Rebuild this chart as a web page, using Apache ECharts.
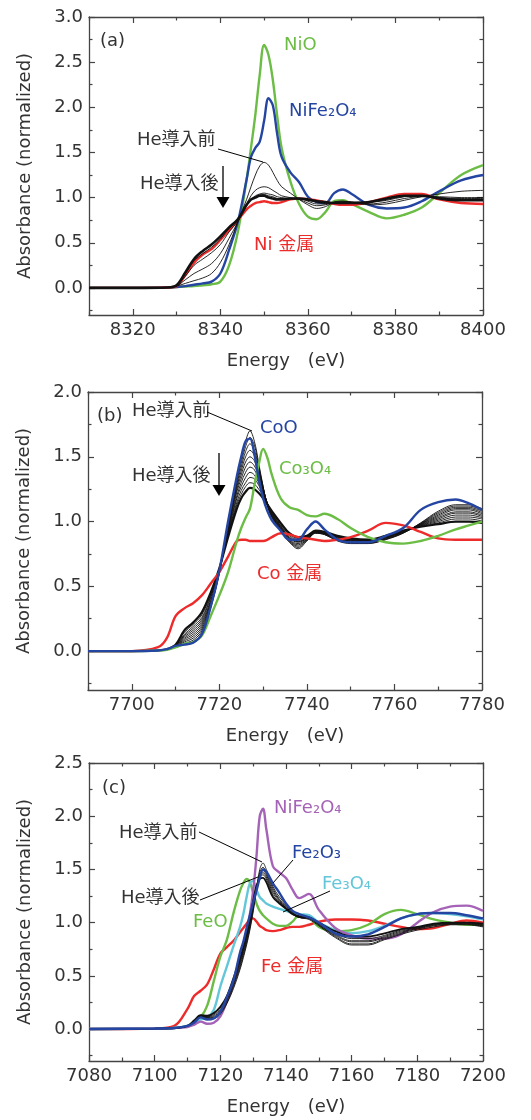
<!DOCTYPE html>
<html><head><meta charset="utf-8">
<script src="https://cdn.jsdelivr.net/npm/echarts@6/dist/echarts.min.js"></script>
<style>html,body{margin:0;padding:0;background:#fff}#c{width:531px;height:1120px}</style>
</head><body><div id="c"></div>
<script>
// ---------------- Panel (a): Ni K-edge ----------------
const E_A = [8310, 8320, 8328, 8330, 8332, 8334, 8336, 8338, 8340, 8342, 8344, 8346, 8347, 8348, 8349, 8350, 8351, 8352, 8353, 8354, 8356, 8358, 8360, 8362, 8364, 8366, 8368, 8370, 8374, 8378, 8382, 8386, 8390, 8395, 8400];
const A_NiO = [0, 0, 0.005, 0.01, 0.015, 0.02, 0.03, 0.04, 0.07, 0.25, 0.62, 1.2, 1.55, 1.92, 2.36, 2.69, 2.58, 2.3, 1.9, 1.55, 1.18, 0.93, 0.79, 0.76, 0.84, 0.96, 0.97, 0.93, 0.84, 0.77, 0.81, 0.89, 1.05, 1.25, 1.36];
const A_NiFe2O4 = [0, 0, 0.005, 0.01, 0.02, 0.035, 0.05, 0.07, 0.16, 0.42, 0.73, 1.2, 1.45, 1.55, 1.62, 1.85, 2.1, 2.02, 1.7, 1.45, 1.28, 1.17, 1.01, 0.95, 0.94, 1.05, 1.09, 1.04, 0.92, 0.88, 0.89, 0.96, 1.07, 1.19, 1.25];
const A_Ni = [0, 0, 0.005, 0.02, 0.14, 0.28, 0.37, 0.43, 0.53, 0.64, 0.75, 0.87, 0.91, 0.94, 0.95, 0.96, 0.95, 0.94, 0.94, 0.95, 0.98, 0.99, 0.98, 0.97, 0.95, 0.93, 0.92, 0.92, 0.95, 1.0, 1.04, 1.04, 0.98, 0.94, 0.93];
const A_S0 = [0, 0, 0.005, 0.02, 0.05, 0.08, 0.11, 0.16, 0.28, 0.48, 0.73, 0.98, 1.12, 1.25, 1.35, 1.39, 1.36, 1.28, 1.19, 1.12, 1.05, 0.98, 0.92, 0.88, 0.9, 0.95, 0.96, 0.95, 0.92, 0.93, 0.97, 1.01, 1.04, 1.07, 1.08];
const A_S1 = [0, 0, 0.005, 0.02, 0.09, 0.16, 0.21, 0.27, 0.38, 0.55, 0.73, 0.93, 1.02, 1.08, 1.11, 1.12, 1.11, 1.08, 1.05, 1.02, 1.0, 0.98, 0.94, 0.91, 0.92, 0.95, 0.96, 0.95, 0.93, 0.95, 0.99, 1.01, 1.01, 1.0, 1.0];
const A_S2 = [0, 0, 0.005, 0.03, 0.13, 0.25, 0.32, 0.39, 0.48, 0.62, 0.74, 0.91, 0.98, 1.02, 1.04, 1.05, 1.04, 1.03, 1.01, 1.0, 0.99, 0.99, 0.96, 0.93, 0.93, 0.94, 0.95, 0.95, 0.95, 0.97, 1.01, 1.02, 1.0, 0.99, 0.99];
const A_S3 = [0, 0, 0.005, 0.03, 0.16, 0.3, 0.38, 0.45, 0.54, 0.66, 0.75, 0.91, 0.98, 1.01, 1.03, 1.035, 1.02, 1.01, 0.99, 0.985, 0.985, 0.99, 0.97, 0.95, 0.94, 0.94, 0.945, 0.945, 0.95, 0.98, 1.015, 1.02, 1.0, 0.98, 0.98];
const A_S4 = [0, 0, 0.005, 0.03, 0.17, 0.32, 0.41, 0.48, 0.57, 0.67, 0.76, 0.92, 0.98, 1.0, 1.02, 1.02, 1.0, 0.99, 0.98, 0.98, 0.99, 0.99, 0.98, 0.96, 0.95, 0.94, 0.94, 0.94, 0.95, 0.99, 1.02, 1.02, 0.99, 0.97, 0.97];
const A_XMAJ = [8320, 8340, 8360, 8380, 8400];
const A_XMIN = [8310, 8330, 8350, 8370, 8390];
const A_YMAJ = [0, 0.5, 1.0, 1.5, 2.0, 2.5, 3.0];
const A_YMIN = [-0.25, 0.25, 0.75, 1.25, 1.75, 2.25, 2.75];

// ---------------- Panel (b): Co K-edge ----------------
const E_B = [7690, 7700, 7706, 7708, 7710, 7712, 7714, 7716, 7718, 7720, 7722, 7724, 7725, 7726, 7727, 7728, 7729, 7730, 7731, 7732, 7734, 7736, 7738, 7740, 7742, 7744, 7747, 7750, 7754, 7758, 7762, 7766, 7770, 7774, 7777, 7780];
const B_CoO = [0, 0, 0.005, 0.015, 0.04, 0.05, 0.065, 0.13, 0.34, 0.62, 1.0, 1.35, 1.5, 1.62, 1.64, 1.52, 1.33, 1.18, 1.08, 1.01, 0.93, 0.86, 0.86, 0.94, 1.0, 0.94, 0.86, 0.84, 0.84, 0.89, 0.95, 1.09, 1.15, 1.17, 1.14, 1.09];
const B_Co3O4 = [0, 0, 0.005, 0.01, 0.03, 0.055, 0.07, 0.12, 0.27, 0.43, 0.61, 0.85, 0.95, 1.03, 1.1, 1.28, 1.44, 1.56, 1.49, 1.36, 1.18, 1.11, 1.09, 1.05, 1.04, 1.06, 1.02, 0.95, 0.88, 0.84, 0.83, 0.85, 0.89, 0.94, 0.97, 1.0];
const B_Co = [0, 0, 0.03, 0.1, 0.27, 0.33, 0.37, 0.43, 0.52, 0.61, 0.73, 0.85, 0.86, 0.86, 0.85, 0.85, 0.85, 0.85, 0.86, 0.88, 0.91, 0.9, 0.88, 0.87, 0.86, 0.85, 0.86, 0.88, 0.93, 0.99, 0.97, 0.92, 0.87, 0.86, 0.86, 0.86];
const B_S0 = [0, 0, 0.005, 0.01, 0.03, 0.05, 0.07, 0.14, 0.33, 0.6, 0.98, 1.33, 1.48, 1.62, 1.70, 1.62, 1.45, 1.27, 1.12, 1.03, 0.93, 0.84, 0.79, 0.85, 0.91, 0.9, 0.85, 0.83, 0.83, 0.86, 0.91, 0.99, 1.08, 1.13, 1.13, 1.1];
const B_S1 = [0, 0, 0.005, 0.01, 0.032, 0.06, 0.085, 0.155, 0.34, 0.605, 0.97, 1.31, 1.45, 1.58, 1.65, 1.59, 1.43, 1.27, 1.12, 1.035, 0.935, 0.845, 0.8, 0.855, 0.91, 0.9, 0.855, 0.835, 0.833, 0.863, 0.912, 0.987, 1.07, 1.12, 1.12, 1.09];
const B_S2 = [0, 0, 0.005, 0.01, 0.035, 0.07, 0.1, 0.17, 0.35, 0.61, 0.96, 1.29, 1.42, 1.54, 1.60, 1.55, 1.41, 1.26, 1.13, 1.04, 0.94, 0.85, 0.81, 0.86, 0.915, 0.905, 0.86, 0.84, 0.836, 0.866, 0.914, 0.984, 1.06, 1.11, 1.11, 1.08];
const B_S3 = [0, 0, 0.005, 0.01, 0.037, 0.08, 0.115, 0.185, 0.36, 0.61, 0.95, 1.27, 1.39, 1.5, 1.55, 1.51, 1.39, 1.26, 1.13, 1.045, 0.945, 0.855, 0.82, 0.86, 0.915, 0.905, 0.865, 0.845, 0.84, 0.87, 0.916, 0.981, 1.05, 1.1, 1.1, 1.07];
const B_S4 = [0, 0, 0.005, 0.012, 0.04, 0.09, 0.13, 0.2, 0.37, 0.615, 0.94, 1.25, 1.36, 1.46, 1.50, 1.47, 1.37, 1.25, 1.13, 1.05, 0.95, 0.86, 0.83, 0.865, 0.92, 0.91, 0.87, 0.85, 0.843, 0.873, 0.918, 0.978, 1.04, 1.09, 1.09, 1.06];
const B_S5 = [0, 0, 0.005, 0.012, 0.042, 0.1, 0.145, 0.215, 0.38, 0.62, 0.93, 1.23, 1.33, 1.42, 1.46, 1.43, 1.35, 1.24, 1.14, 1.055, 0.955, 0.87, 0.84, 0.87, 0.92, 0.91, 0.87, 0.85, 0.846, 0.876, 0.92, 0.975, 1.03, 1.075, 1.075, 1.05];
const B_S6 = [0, 0, 0.005, 0.013, 0.044, 0.11, 0.16, 0.23, 0.39, 0.625, 0.92, 1.2, 1.3, 1.38, 1.42, 1.40, 1.32, 1.23, 1.14, 1.06, 0.96, 0.875, 0.845, 0.87, 0.92, 0.91, 0.875, 0.855, 0.85, 0.88, 0.922, 0.972, 1.02, 1.065, 1.065, 1.04];
const B_S7 = [0, 0, 0.005, 0.013, 0.046, 0.12, 0.175, 0.245, 0.41, 0.63, 0.91, 1.18, 1.27, 1.34, 1.38, 1.36, 1.30, 1.22, 1.14, 1.065, 0.965, 0.88, 0.85, 0.875, 0.925, 0.915, 0.88, 0.86, 0.852, 0.882, 0.924, 0.969, 1.01, 1.05, 1.05, 1.03];
const B_S8 = [0, 0, 0.005, 0.014, 0.048, 0.13, 0.19, 0.26, 0.42, 0.63, 0.9, 1.15, 1.24, 1.3, 1.34, 1.33, 1.28, 1.21, 1.14, 1.07, 0.97, 0.89, 0.86, 0.88, 0.925, 0.915, 0.88, 0.86, 0.855, 0.885, 0.926, 0.966, 1.0, 1.035, 1.035, 1.02];
const B_S9 = [0, 0, 0.005, 0.015, 0.05, 0.145, 0.205, 0.28, 0.435, 0.635, 0.89, 1.13, 1.21, 1.27, 1.30, 1.29, 1.25, 1.2, 1.13, 1.075, 0.98, 0.9, 0.87, 0.885, 0.93, 0.92, 0.885, 0.865, 0.858, 0.888, 0.928, 0.963, 0.99, 1.02, 1.02, 1.005];
const B_S10 = [0, 0, 0.005, 0.015, 0.05, 0.16, 0.22, 0.3, 0.45, 0.64, 0.88, 1.1, 1.18, 1.23, 1.26, 1.25, 1.22, 1.18, 1.13, 1.08, 0.99, 0.91, 0.88, 0.89, 0.93, 0.92, 0.89, 0.87, 0.86, 0.89, 0.93, 0.96, 0.98, 1.0, 1.0, 0.99];
const B_XMAJ = [7700, 7720, 7740, 7760, 7780];
const B_XMIN = [7690, 7710, 7730, 7750, 7770];
const B_YMAJ = [0, 0.5, 1.0, 1.5, 2.0];
const B_YMIN = [-0.25, 0.25, 0.75, 1.25, 1.75];

// ---------------- Panel (c): Fe K-edge ----------------
const E_C = [7080, 7100, 7106, 7110, 7112, 7114, 7116, 7118, 7120, 7122, 7124, 7126, 7127, 7128, 7129, 7130, 7131, 7132, 7133, 7134, 7136, 7138, 7140, 7142, 7144, 7147, 7150, 7155, 7160, 7165, 7170, 7175, 7180, 7185, 7190, 7195, 7200];
const C_Fe = [0, 0.005, 0.03, 0.19, 0.31, 0.36, 0.42, 0.56, 0.71, 0.77, 0.83, 0.91, 0.95, 0.99, 1.03, 1.04, 1.01, 0.97, 0.95, 0.93, 0.92, 0.93, 0.95, 0.96, 0.96, 0.98, 1.01, 1.03, 1.03, 1.02, 0.99, 0.96, 0.94, 0.95, 0.99, 1.02, 1.0];
const C_FeO = [0, 0.005, 0.01, 0.03, 0.07, 0.11, 0.22, 0.45, 0.68, 0.84, 1.09, 1.3, 1.37, 1.41, 1.38, 1.28, 1.18, 1.11, 1.07, 1.04, 0.99, 0.97, 0.97, 1.01, 1.07, 1.05, 0.96, 0.92, 0.93, 0.98, 1.08, 1.12, 1.08, 1.03, 1.0, 0.98, 0.98];
const C_Fe3O4 = [0, 0.005, 0.01, 0.03, 0.06, 0.09, 0.11, 0.18, 0.4, 0.59, 0.78, 0.96, 1.08, 1.24, 1.37, 1.39, 1.31, 1.24, 1.21, 1.18, 1.15, 1.13, 1.11, 1.09, 1.08, 1.07, 1.0, 0.93, 0.9, 0.92, 0.97, 1.04, 1.08, 1.09, 1.08, 1.06, 1.03];
const C_Fe2O3 = [0, 0.005, 0.01, 0.03, 0.06, 0.11, 0.09, 0.1, 0.16, 0.3, 0.46, 0.72, 0.82, 0.95, 1.07, 1.19, 1.3, 1.42, 1.50, 1.48, 1.37, 1.28, 1.18, 1.11, 1.08, 1.05, 1.0, 0.9, 0.87, 0.89, 0.96, 1.04, 1.08, 1.09, 1.09, 1.07, 1.04];
const C_NiFe2O4 = [0, 0.005, 0.01, 0.02, 0.04, 0.07, 0.05, 0.06, 0.12, 0.26, 0.43, 0.67, 0.8, 0.92, 1.08, 1.3, 1.62, 2.0, 2.07, 1.88, 1.53, 1.47, 1.42, 1.31, 1.23, 1.27, 1.12, 0.95, 0.88, 0.85, 0.85, 0.89, 1.0, 1.1, 1.15, 1.16, 1.11];
const C_S0 = [0, 0.005, 0.01, 0.03, 0.07, 0.12, 0.1, 0.1, 0.14, 0.24, 0.38, 0.56, 0.67, 0.79, 0.93, 1.1, 1.3, 1.5, 1.56, 1.5, 1.34, 1.24, 1.17, 1.1, 1.05, 1.03, 0.97, 0.86, 0.79, 0.79, 0.84, 0.89, 0.93, 0.96, 0.98, 0.98, 0.96];
const C_S1 = [0, 0.005, 0.01, 0.03, 0.07, 0.12, 0.105, 0.11, 0.155, 0.25, 0.4, 0.58, 0.69, 0.81, 0.95, 1.12, 1.31, 1.47, 1.52, 1.47, 1.32, 1.22, 1.16, 1.09, 1.05, 1.04, 0.98, 0.87, 0.8, 0.8, 0.85, 0.9, 0.94, 0.97, 0.985, 0.985, 0.965];
const C_S2 = [0, 0.005, 0.01, 0.03, 0.07, 0.125, 0.11, 0.12, 0.17, 0.27, 0.42, 0.6, 0.71, 0.83, 0.97, 1.14, 1.32, 1.45, 1.49, 1.45, 1.3, 1.21, 1.15, 1.09, 1.05, 1.04, 0.98, 0.88, 0.82, 0.82, 0.86, 0.91, 0.945, 0.975, 0.99, 0.99, 0.97];
const C_S3 = [0, 0.005, 0.01, 0.03, 0.075, 0.125, 0.115, 0.13, 0.185, 0.28, 0.44, 0.62, 0.73, 0.85, 0.99, 1.16, 1.33, 1.43, 1.47, 1.43, 1.28, 1.2, 1.14, 1.08, 1.05, 1.04, 0.99, 0.89, 0.83, 0.83, 0.87, 0.92, 0.95, 0.98, 0.995, 0.995, 0.975];
const C_S4 = [0, 0.005, 0.01, 0.03, 0.075, 0.13, 0.12, 0.14, 0.2, 0.3, 0.46, 0.64, 0.75, 0.87, 1.01, 1.18, 1.34, 1.42, 1.45, 1.41, 1.26, 1.19, 1.14, 1.08, 1.05, 1.05, 0.99, 0.9, 0.85, 0.85, 0.88, 0.93, 0.955, 0.985, 1.0, 1.0, 0.98];
const C_S5 = [0, 0.005, 0.01, 0.03, 0.08, 0.13, 0.125, 0.15, 0.21, 0.31, 0.48, 0.66, 0.77, 0.89, 1.03, 1.2, 1.35, 1.41, 1.42, 1.38, 1.24, 1.18, 1.13, 1.08, 1.06, 1.05, 1.0, 0.92, 0.87, 0.87, 0.9, 0.94, 0.96, 0.99, 1.0, 1.0, 0.99];
const C_XMAJ = [7080, 7100, 7120, 7140, 7160, 7180, 7200];
const C_XMIN = [7090, 7110, 7130, 7150, 7170, 7190];
const C_YMAJ = [0, 0.5, 1.0, 1.5, 2.0, 2.5];
const C_YMIN = [-0.25, 0.25, 0.75, 1.25, 1.75, 2.25];

// ---------------- styling ----------------
const GREEN = '#6cbd45', BLUE = '#2545a2', RED = '#ee2b2b', PURPLE = '#a463b6', CYAN = '#63c7d9', BLK = '#111111';
const AX = '#444444', TXT = '#333333';
const FONT = '"DejaVu Sans", "Noto Sans CJK JP", sans-serif';
const FS = 18;
const LW = 2.4;

const grids = [
  {left: 89, top: 17, width: 394, height: 298},
  {left: 88, top: 392, width: 394, height: 298},
  {left: 89, top: 763, width: 394, height: 298}
];

const xAxes = [], yAxes = [];
function addAxes(g, xr, xMaj, xMin, yr, yMaj, yMin) {
  const mk = (pos, ticks, len, showLine, isMain, isX) => {
    const a = {
      gridIndex: g, type: 'value', position: pos,
      min: isX ? xr[0] : yr[0], max: isX ? xr[1] : yr[1],
      splitLine: {show: false},
      axisLine: {show: showLine, onZero: false, lineStyle: {color: AX, width: 1.3}},
      axisTick: {show: true, inside: true, length: len, lineStyle: {color: AX, width: 1.2}, customValues: ticks},
      axisLabel: {show: false}
    };
    if (isMain) {
      a.axisLabel = {show: true, customValues: ticks, color: TXT, fontSize: FS, fontFamily: FONT, margin: 6,
        formatter: isX ? (v => String(v)) : (v => v.toFixed(1))};
      a.nameLocation = 'middle';
      a.nameTextStyle = {color: TXT, fontSize: FS, fontFamily: FONT};
      if (isX) { a.name = 'Energy\u3000(eV)'; a.nameGap = 37; }
      else { a.name = 'Absorbance (normalized)'; a.nameGap = 55; }
    }
    return a;
  };
  xAxes.push(mk('bottom', xMaj, 6, true, true, true));
  xAxes.push(mk('bottom', xMin, 3.5, false, false, true));
  xAxes.push(mk('top', xMaj, 6, true, false, true));
  xAxes.push(mk('top', xMin, 3.5, false, false, true));
  yAxes.push(mk('left', yMaj, 6, true, true, false));
  yAxes.push(mk('left', yMin, 3.5, false, false, false));
  yAxes.push(mk('right', yMaj, 6, true, false, false));
  yAxes.push(mk('right', yMin, 3.5, false, false, false));
}
addAxes(0, [8310, 8400], A_XMAJ, A_XMIN, [-0.3, 3.0], A_YMAJ, A_YMIN);
addAxes(1, [7690, 7780], B_XMAJ, B_XMIN, [-0.3, 2.0], B_YMAJ, B_YMIN);
addAxes(2, [7080, 7200], C_XMAJ, C_XMIN, [-0.3, 2.5], C_YMAJ, C_YMIN);

const series = [];
function line(g, xs, ys, color, width) {
  series.push({
    type: 'line', xAxisIndex: 4 * g, yAxisIndex: 4 * g,
    data: xs.map((x, i) => [x, ys[i]]),
    showSymbol: false, symbol: 'none', smooth: 0.35, silent: true,
    lineStyle: {color: color, width: width}, itemStyle: {color: color}
  });
}
// (a)
line(0, E_A, A_NiO, GREEN, LW);
line(0, E_A, A_NiFe2O4, BLUE, LW);
line(0, E_A, A_Ni, RED, LW);
[A_S0, A_S1, A_S2, A_S3].forEach(s => line(0, E_A, s, BLK, 0.9));
line(0, E_A, A_S4, BLK, 2.6);
// (b)
[B_S0, B_S1, B_S2, B_S3, B_S4, B_S5, B_S6, B_S7, B_S8, B_S9].forEach(s => line(1, E_B, s, BLK, 0.9));
line(1, E_B, B_S10, BLK, 2.2);
line(1, E_B, B_Co, RED, LW);
line(1, E_B, B_Co3O4, GREEN, LW);
line(1, E_B, B_CoO, BLUE, LW);
// (c)
line(2, E_C, C_Fe, RED, LW);
line(2, E_C, C_FeO, GREEN, LW);
line(2, E_C, C_Fe3O4, CYAN, LW);
line(2, E_C, C_NiFe2O4, PURPLE, LW);
[C_S0, C_S1, C_S2, C_S3, C_S4].forEach(s => line(2, E_C, s, BLK, 0.9));
line(2, E_C, C_S5, BLK, 1.8);
line(2, E_C, C_Fe2O3, BLUE, LW);

// ---------------- annotations ----------------
function txt(t, x, y, color) {
  return {type: 'text', silent: true, z: 50, style: {text: t, x: x, y: y, fill: color, font: FS + 'px ' + FONT,
    align: 'left', verticalAlign: 'middle', textAlign: 'left', textVerticalAlign: 'middle'}};
}
function seg(x1, y1, x2, y2, w) {
  return {type: 'line', silent: true, z: 50, shape: {x1: x1, y1: y1, x2: x2, y2: y2}, style: {stroke: '#000', lineWidth: w || 1}};
}
function arrow(x, y1, y2) {
  return [seg(x, y1, x, y2 - 8, 1.3),
    {type: 'polygon', silent: true, z: 50, shape: {points: [[x - 6.5, y2 - 11], [x + 6.5, y2 - 11], [x, y2]]}, style: {fill: '#000'}}];
}
const graphics = [
  // (a)
  txt('(a)', 100, 41, TXT),
  txt('NiO', 284, 45, GREEN),
  txt('NiFe\u2082O\u2084', 289, 111, BLUE),
  txt('He導入前', 137, 140, TXT),
  seg(218, 149, 263, 162),
  txt('He導入後', 140, 184, TXT),
  ...arrow(223, 166, 208),
  txt('Ni 金属', 254, 245, RED),
  // (b)
  txt('(b)', 97, 416, TXT),
  txt('He導入前', 132, 411, TXT),
  seg(207, 412, 252, 431),
  txt('CoO', 260, 428, BLUE),
  txt('Co\u2083O\u2084', 279, 469, GREEN),
  txt('He導入後', 132, 476, TXT),
  ...arrow(219, 453, 496),
  txt('Co 金属', 257, 574, RED),
  // (c)
  txt('(c)', 102, 788, TXT),
  txt('NiFe\u2082O\u2084', 274, 808, PURPLE),
  txt('He導入前', 119, 833, TXT),
  seg(199, 832, 262, 862),
  txt('Fe\u2082O\u2083', 292, 853, BLUE),
  seg(293, 860, 273, 883),
  txt('Fe\u2083O\u2084', 322, 884, CYAN),
  seg(330, 891, 283, 912),
  txt('He導入後', 121, 898, TXT),
  seg(200, 900, 258, 877),
  txt('FeO', 193, 922, GREEN),
  txt('Fe 金属', 261, 967, RED)
];

const chart = echarts.init(document.getElementById('c'), null, {renderer: 'canvas', width: 531, height: 1120});
chart.setOption({
  animation: false,
  backgroundColor: '#ffffff',
  grid: grids,
  xAxis: xAxes,
  yAxis: yAxes,
  series: series,
  graphic: {elements: graphics}
});
</script>
</body></html>
